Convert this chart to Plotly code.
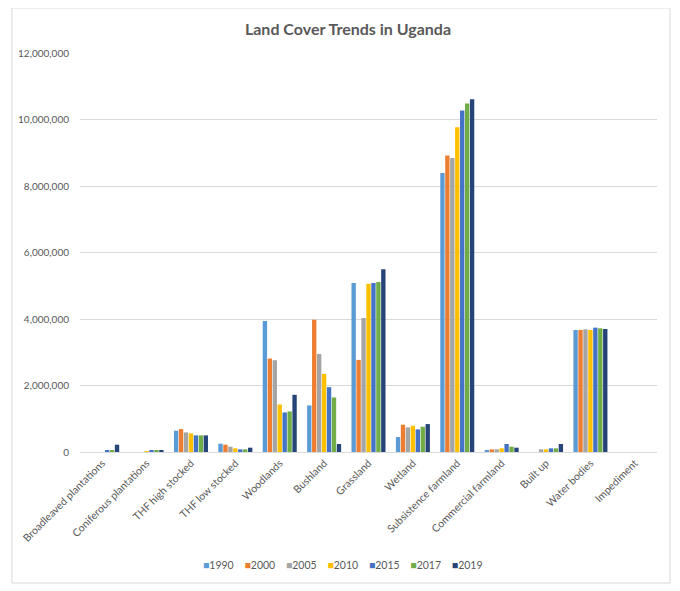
import plotly.graph_objects as go

# Категории и значения (оценка по картинке)
categories = ['Broadleaved plantations', 'Coniferous plantations', 'THF high stocked',
              'THF low stocked', 'Woodlands', 'Bushland', 'Grassland', 'Wetland',
              'Subsistence farmland', 'Commercial farmland', 'Built up', 'Water bodies',
              'Impediment']

years = ['1990', '2000', '2005', '2010', '2015', '2017', '2019']

v1990 = [0, 0, 640000, 250000, 3940000, 1400000, 5080000, 450000, 8390000, 50000, 0, 3670000, 0]
v2000 = [0, 0, 690000, 220000, 2810000, 3980000, 2770000, 820000, 8920000, 80000, 0, 3670000, 0]
v2005 = [0, 0, 590000, 160000, 2760000, 2950000, 4030000, 740000, 8840000, 80000, 80000, 3690000, 0]
v2010 = [0, 30000, 560000, 110000, 1430000, 2350000, 5060000, 790000, 9770000, 110000, 80000, 3670000, 0]
v2015 = [40000, 40000, 500000, 80000, 1190000, 1950000, 5080000, 680000, 10270000, 240000, 110000, 3740000, 0]
v2017 = [60000, 50000, 500000, 80000, 1220000, 1640000, 5110000, 760000, 10480000, 160000, 110000, 3720000, 0]
v2019 = [220000, 60000, 500000, 130000, 1720000, 240000, 5500000, 840000, 10610000, 130000, 240000, 3700000, 0]

series = [v1990, v2000, v2005, v2010, v2015, v2017, v2019]
colors = ['#5B9BD5', '#ED7D31', '#A5A5A5', '#FFC000', '#4472C4', '#70AD47', '#264478']

fig = go.Figure()
for year, vals, col in zip(years, series, colors):
    fig.add_trace(go.Bar(x=categories, y=vals, name=year, showlegend=False,
                         marker=dict(color=col, line=dict(width=0))))

# компактная легенда как в Excel
legend_text = '&nbsp;&nbsp;&nbsp;&nbsp;'.join(
    "<span style='color:%s'>■</span>%s" % (col, year) for year, col in zip(years, colors))

fig.update_layout(
    width=680, height=591,
    template='none',
    paper_bgcolor='white', plot_bgcolor='white',
    font=dict(family='Lato, Calibri, sans-serif', size=10, color='#595959'),
    title=dict(text='<b>Land Cover Trends in Uganda</b>', x=0.5, xanchor='center',
               y=0.9645, yanchor='middle', font=dict(size=16, color='#595959')),
    margin=dict(l=72, r=31, t=45, b=147),
    barmode='group', bargap=0.22, bargroupgap=0.12,
    xaxis=dict(tickangle=-45, automargin=False, showgrid=False, showline=True,
               linecolor='#d9d9d9', linewidth=1, ticks='', tickfont=dict(size=10.5)),
    yaxis=dict(range=[0, 12000000], dtick=2000000, tickformat=',d', automargin=False,
               showgrid=True, gridcolor='#d9d9d9', gridwidth=1, zeroline=False,
               showline=False, ticks='', ticklabelstandoff=10, tickfont=dict(size=10)),
    annotations=[dict(text=legend_text, xref='paper', yref='paper', x=0.456, y=-0.283,
                      xanchor='center', yanchor='middle', showarrow=False,
                      font=dict(size=10.5, color='#595959'))],
    shapes=[dict(type='rect', xref='paper', yref='paper', x0=-0.118, x1=1.0225,
                 y0=-0.3283, y1=1.1128, line=dict(color='#d9d9d9', width=1),
                 layer='below')],
)

fig.write_html('out.html')
